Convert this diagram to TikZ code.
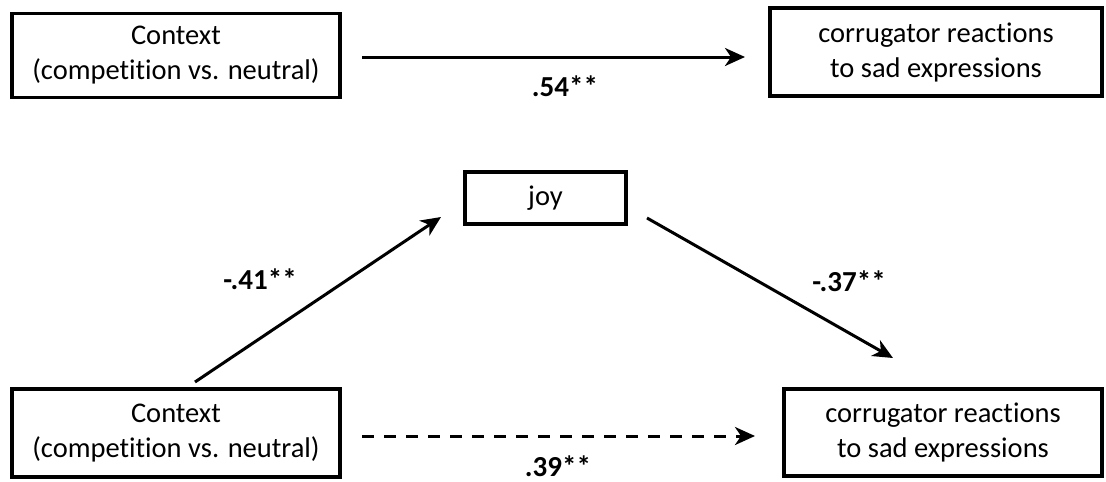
\documentclass[tikz,border=0pt]{standalone}
\usepackage{fontspec}
\setmainfont{Carlito}[Ligatures=NoCommon]
\usetikzlibrary{arrows.meta}
\begin{document}
\begin{tikzpicture}[x=1pt,y=-1pt,
  box/.style={draw, line width=3.5pt, rectangle, inner sep=0pt, align=center,
    font=\fontsize{28.5}{35}\selectfont},
  lbl/.style={font=\bfseries\fontsize{29}{30}\selectfont, inner sep=0pt},
  conn/.style={line width=3pt, -{Stealth[length=20pt,width=18pt,inset=6pt]}},
  dashconn/.style={conn, dash pattern=on 12pt off 10pt}
  ]
\useasboundingbox (0,0) rectangle (1106,482);
% top model
\node[box, minimum width=328pt, minimum height=84pt] (ctx1) at (176,55.5) {Context\\(competition vs. neutral)};
\node[box, minimum width=332pt, minimum height=88pt] (cor1) at (936,52) {corrugator reactions\\to sad expressions};
\coordinate (t1) at (362,57);
\coordinate (t2) at (745,57);
\draw[conn] (t1) -- (t2);
\node[lbl] (l54) at (565,86) {.54**};
% bottom model
\node[box, minimum width=161pt, minimum height=52pt] (joy) at (545.5,198) {joy};
\node[box, minimum width=328pt, minimum height=88pt] (ctx2) at (176,433) {Context\\(competition vs. neutral)};
\node[box, minimum width=318pt, minimum height=87pt] (cor2) at (943,432.5) {corrugator reactions\\to sad expressions};
\coordinate (a1) at (195,382);
\coordinate (a2) at (441,217);
\coordinate (b1) at (647,218);
\coordinate (b2) at (893,358);
\coordinate (c1) at (362,436);
\coordinate (c2) at (755,436);
\draw[conn] (a1) -- (a2);
\draw[conn] (b1) -- (b2);
\draw[dashconn] (c1) -- (c2);
\node[lbl] (l41) at (260,279) {-.41**};
\node[lbl] (l37) at (849,281) {-.37**};
\node[lbl] (l39) at (558,466) {.39**};
\end{tikzpicture}
\end{document}
